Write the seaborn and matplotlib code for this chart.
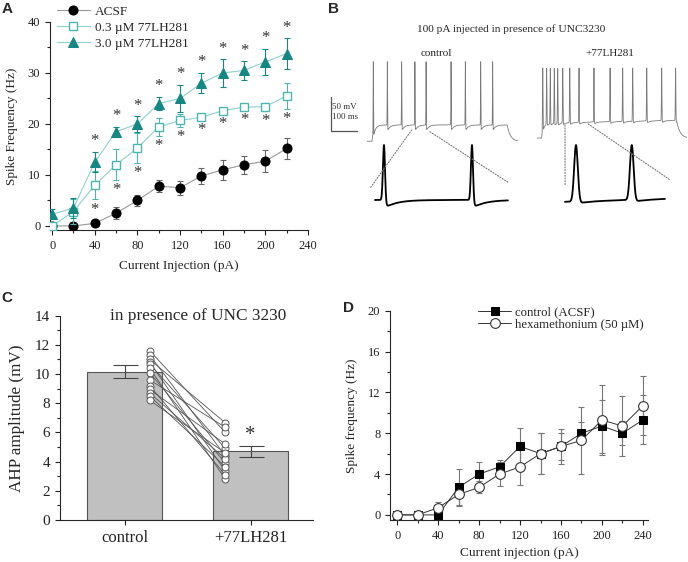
import numpy as np
import pandas as pd
import seaborn as sns
import matplotlib.pyplot as plt
from matplotlib.patches import ConnectionPatch
from matplotlib.ticker import MultipleLocator

# ---- A: spike frequency vs injected current (mean +- sem)
current_a = [0, 20, 40, 60, 80, 100, 120, 140, 160, 180, 200, 220]
acsf_hz = [0, 0, 0.5, 2.5, 5.0, 7.8, 7.5, 9.8, 11.0, 12.0, 12.7, 15.2]
acsf_sem = [0, 0.3, 0.4, 1.2, 1.0, 1.2, 1.4, 1.5, 1.9, 1.8, 2.2, 2.0]
low_hz = [0, 2.8, 8.0, 12.0, 15.3, 19.4, 20.7, 21.3, 22.6, 23.3, 23.4, 25.5]
low_sem = [0.5, 2.5, 2.8, 3.0, 3.0, 1.7, 1.3, 0.5, 0.5, 0.6, 0.8, 2.5]
high_hz = [2.3, 3.5, 12.5, 18.5, 20.0, 24.0, 25.0, 28.0, 30.0, 30.5, 32.2, 33.8]
high_sem = [1.0, 2.0, 2.0, 1.0, 1.5, 1.3, 2.7, 2.0, 2.7, 1.8, 2.5, 3.0]
first_sig = 40

# ---- B: spike times (ms after step onset) of the example traces
ctrl_spikes = [5, 59, 114, 165, 208, 304, 359, 418, 464]
drug_spikes = [4, 19, 33, 48.5, 61.5, 81, 108, 143.5, 201, 263, 311.5, 350, 404, 461.5, 515]
ctrl_zoom_spikes = [7, 51]
drug_zoom_spikes = [6.5, 34.4]

# ---- C: AHP amplitude
ahp_groups = ['control', '+77LH281']
ahp_mean = [10.15, 4.7]
ahp_sem = [0.45, 0.4]
ahp_ctrl = [11.6, 11.3, 11.0, 10.8, 10.7, 10.4, 10.1, 9.6, 9.2, 8.95, 8.7, 8.5, 8.2]
ahp_drug = [6.0, 4.4, 6.66, 3.35, 4.9, 2.8, 3.9, 6.35, 3.1, 5.2, 4.2, 3.65, 4.6]

# ---- D: hexamethonium
current_d = [0, 20, 40, 60, 80, 100, 120, 140, 160, 180, 200, 220, 240]
ctrl_hz = [0, 0, 0, 2.7, 4.0, 4.7, 6.7, 6.0, 6.7, 8.0, 8.7, 8.0, 9.3]
ctrl_sem = [0, 0, 0, 1.8, 1.2, 0.7, 1.8, 2.0, 1.7, 1.1, 2.6, 1.15, 2.4]
hexa_hz = [0, 0, 0.7, 2.0, 2.7, 4.0, 4.7, 6.0, 6.7, 7.3, 9.3, 8.7, 10.7]
hexa_sem = [0, 0, 0.6, 1.0, 0.6, 1.2, 1.8, 2.0, 1.3, 3.3, 3.4, 2.9, 2.9]

sns.set_style("ticks")
plt.rcParams['font.family'] = ['Liberation Serif', 'DejaVu Serif']
plt.rcParams['axes.linewidth'] = 0.8
plt.rcParams['xtick.major.size'] = 3.5
plt.rcParams['ytick.major.size'] = 3.5
plt.rcParams['xtick.minor.size'] = 2
plt.rcParams['ytick.minor.size'] = 2

W, H = 688, 562
fig = plt.figure(figsize=(W / 100, H / 100), dpi=100)

def px_axes(l, t, r, b):
    return fig.add_axes([l / W, 1 - b / H, (r - l) / W, (b - t) / H])

def px_text(x, y, s, **kw):
    fig.text(x / W, 1 - y / H, s, **kw)

def style(ax):
    sns.despine(ax=ax)
    ax.tick_params(which='both', direction='out', width=0.8, colors='#222')

# =================== A ===================
teal = '#178582'
teal_line = '#8fd0cd'
teal_sq = '#4fb4b0'
axA = px_axes(50, 22, 308, 230)
axA.errorbar(current_a, acsf_hz, yerr=acsf_sem, fmt='none', ecolor='#666', elinewidth=0.8,
             capsize=2.5, capthick=0.8, zorder=2)
sns.lineplot(x=current_a, y=acsf_hz, ax=axA, color='#999', linewidth=0.8, marker='o', markersize=6.5,
             markerfacecolor='black', markeredgecolor='black', zorder=3)
hA = [axA.lines[-1]]
axA.errorbar(current_a, low_hz, yerr=low_sem, fmt='none', ecolor=teal_sq, elinewidth=0.8,
             capsize=2.5, capthick=0.8, zorder=4)
sns.lineplot(x=current_a, y=low_hz, ax=axA, color=teal_line, linewidth=0.8, marker='s', markersize=6,
             markerfacecolor='white', markeredgecolor=teal_sq, markeredgewidth=1.0, zorder=5)
hA.append(axA.lines[-1])
axA.errorbar(current_a, high_hz, yerr=high_sem, fmt='none', ecolor=teal, elinewidth=0.8,
             capsize=2.5, capthick=0.8, zorder=6)
sns.lineplot(x=current_a, y=high_hz, ax=axA, color=teal_line, linewidth=0.8, marker='^', markersize=7.5,
             markerfacecolor=teal, markeredgecolor=teal, zorder=7)
hA.append(axA.lines[-1])
for x, hm, hs, lm, ls in zip(current_a, high_hz, high_sem, low_hz, low_sem):
    if x >= first_sig:
        axA.text(x, hm + hs + 1.3, '*', ha='center', va='baseline', fontsize=12, color='#333')
        axA.text(x, lm - ls - 2.8, '*', ha='center', va='baseline', fontsize=12, color='#333')
axA.set_xlim(-2, 240)
axA.set_ylim(-0.8, 40)
axA.xaxis.set_major_locator(MultipleLocator(40))
axA.xaxis.set_minor_locator(MultipleLocator(20))
axA.yaxis.set_major_locator(MultipleLocator(10))
axA.yaxis.set_minor_locator(MultipleLocator(5))
axA.tick_params(labelsize=9)
axA.set_xlabel('Current Injection (pA)', fontsize=9.5)
axA.set_ylabel('Spike Frequency (Hz)', fontsize=9.5)
axA.xaxis.set_label_coords(0.5, -0.145)
axA.yaxis.set_label_coords(-0.125, 0.5)
style(axA)
axA.legend(hA, ['ACSF', '0.3 \u00b5M 77LH281', '3.0 \u00b5M 77LH281'], loc='upper left',
           bbox_to_anchor=(0.027, 1.08), frameon=False, fontsize=9.5, handlelength=2.5,
           handletextpad=0.35, labelspacing=0.3, borderpad=0, borderaxespad=0)

# =================== B ===================
def step_base(t, rest, plateau, drift, dur=520):
    base = np.full_like(t, rest, dtype=float)
    on = (t >= 0) & (t < dur)
    base[on] = plateau + drift * t[on] / dur + (rest - plateau) * np.exp(-t[on] / 6)
    off = t >= dur
    base[off] = rest + (plateau + drift - rest) * np.exp(-(t[off] - dur) / 12)
    return base

def add_spikes(t, base, spikes, peak, width, ahp, tau):
    v = base.copy()
    for s in spikes:
        v += (peak - base) * np.exp(-((t - s) / width) ** 2)
        d = np.clip(t - s, 0, None)
        v -= ahp * (1 - np.exp(-d / width)) * np.exp(-d / tau)
    return v

t_raw = np.arange(-20, 560, 0.1)
v_ctrl = add_spikes(t_raw, step_base(t_raw, -82, -58, 0), ctrl_spikes, 35, 0.9, 9, 10)
v_drug = add_spikes(t_raw, step_base(t_raw, -68, -46, 4), drug_spikes, 35, 1.3, 4, 8)

axB1 = px_axes(366.8, 58.3, 517.6, 146.7)
axB2 = px_axes(536.5, 64.6, 687.3, 153.0)
for ax, v in [(axB1, v_ctrl), (axB2, v_drug)]:
    sns.lineplot(x=t_raw, y=v, ax=ax, estimator=None, sort=False, color='#7a7a7a', linewidth=0.6)
    ax.set_xlim(-20, 560)
    ax.set_ylim(-90, 40)
    ax.axis('off')

# scale bar 50 mV / 100 ms
axB1.plot([-158, -158, -58], [-17, -67, -67], color='#555', linewidth=0.9, clip_on=False)
axB1.text(-152, -31, '50 mV', fontsize=6.5, va='center', ha='left', color='#333')
axB1.text(-152, -47, '100 ms', fontsize=6.5, va='center', ha='left', color='#333')

t_zc = np.arange(2.5, 69, 0.05)
v_zc = add_spikes(t_zc, np.full_like(t_zc, -55.0), ctrl_zoom_spikes, 35, 0.75, 14, 6)
t_zd = np.arange(1, 51, 0.05)
v_zd = add_spikes(t_zd, -58 + 5 * (t_zd - 1) / 50, drug_zoom_spikes, 35, 1.3, 4, 6)

axZ1 = px_axes(370, 140, 510, 210)
axZ2 = px_axes(563, 140, 668, 210)
for ax, t, v, lim in [(axZ1, t_zc, v_zc, 70), (axZ2, t_zd, v_zd, 52.5)]:
    sns.lineplot(x=t, y=v, ax=ax, estimator=None, sort=False, color='black', linewidth=1.3)
    ax.set_xlim(0, lim)
    ax.set_ylim(-71.4, 43.2)
    ax.axis('off')

for axr, p, axz, q in [(axB1, (152.7, -65.4), axZ1, (0.0, 0.31)),
                       (axB1, (223, -68), axZ1, (0.99, 0.39)),
                       (axB2, (89.6, -49), axZ2, (0.02, 0.36)),
                       (axB2, (179, -47.4), axZ2, (1.02, 0.43))]:
    con = ConnectionPatch(xyA=p, coordsA=axr.transData, xyB=q, coordsB=axz.transAxes,
                          linestyle=(0, (1, 1.5)), color='#777', linewidth=0.8)
    fig.add_artist(con)

px_text(510.7, 29, '100 pA injected in presence of UNC3230', fontsize=8.2, ha='center', va='center')
px_text(436.7, 53, 'control', fontsize=8, ha='center', va='center')
px_text(610, 54, '+77LH281', fontsize=8, ha='center', va='center')

# =================== C ===================
axC = px_axes(60, 315.7, 313, 520)
sns.barplot(x=ahp_groups, y=ahp_mean, ax=axC, color='#c0c0c0', saturation=1, errorbar=None,
            edgecolor='#555', linewidth=0.8, width=0.6, zorder=1)
axC.errorbar([0, 1], ahp_mean, yerr=ahp_sem, fmt='none', ecolor='#444', elinewidth=0.8,
             capsize=9, capthick=0.8, zorder=2)
n = len(ahp_ctrl)
pairs = pd.DataFrame({'cell': list(range(n)) * 2,
                      'pos': [0.2] * n + [0.8] * n,
                      'amp': ahp_ctrl + ahp_drug})
sns.lineplot(data=pairs, x='pos', y='amp', units='cell', estimator=None, ax=axC, color='#555',
             linewidth=0.6, marker='o', markersize=5, markerfacecolor='white',
             markeredgecolor='#555', markeredgewidth=0.7, zorder=3)
axC.text(1, ahp_mean[1] + ahp_sem[1] + 0.35, '*', ha='center', va='baseline', fontsize=15, color='#333')
axC.set_xlim(-0.512, 1.496)
axC.set_ylim(0, 14)
axC.set_xticks([0, 1])
axC.set_xticklabels(ahp_groups)
axC.yaxis.set_major_locator(MultipleLocator(2))
axC.yaxis.set_minor_locator(MultipleLocator(1))
axC.tick_params(axis='x', labelsize=12)
axC.tick_params(axis='y', labelsize=11)
axC.set_xlabel('')
axC.set_ylabel('AHP amplitude (mV)', fontsize=12.3)
axC.yaxis.set_label_coords(-0.138, 0.5)
style(axC)
axC.text(0.545, 1.0, 'in presence of UNC 3230', transform=axC.transAxes, ha='center', va='center',
         fontsize=12.4)

# =================== D ===================
axD = px_axes(390, 310.7, 648, 520)
axD.errorbar(current_d, ctrl_hz, yerr=ctrl_sem, fmt='none', ecolor='#777', elinewidth=0.8,
             capsize=2.5, capthick=0.8, zorder=2)
axD.errorbar(current_d, hexa_hz, yerr=hexa_sem, fmt='none', ecolor='#777', elinewidth=0.8,
             capsize=2.5, capthick=0.8, zorder=2)
sns.lineplot(x=current_d, y=ctrl_hz, ax=axD, color='#333', linewidth=0.7, marker='s', markersize=6,
             markerfacecolor='black', markeredgecolor='black', zorder=3)
hD = [axD.lines[-1]]
sns.lineplot(x=current_d, y=hexa_hz, ax=axD, color='#333', linewidth=0.7, marker='o', markersize=7,
             markerfacecolor='white', markeredgecolor='#333', markeredgewidth=0.8, zorder=4)
hD.append(axD.lines[-1])
axD.set_xlim(-7, 245)
axD.set_ylim(-0.5, 20)
axD.xaxis.set_major_locator(MultipleLocator(40))
axD.xaxis.set_minor_locator(MultipleLocator(20))
axD.yaxis.set_major_locator(MultipleLocator(4))
axD.yaxis.set_minor_locator(MultipleLocator(2))
axD.tick_params(labelsize=9)
axD.set_xlabel('Current injection (pA)', fontsize=9.5)
axD.set_ylabel('Spike frequency (Hz)', fontsize=9.5)
axD.xaxis.set_label_coords(0.5, -0.13)
axD.yaxis.set_label_coords(-0.124, 0.5)
style(axD)
axD.legend(hD, ['control (ACSF)', 'hexamethonium (50 \u00b5M)'], loc='upper left',
           bbox_to_anchor=(0.342, 1.02), frameon=False, fontsize=9.2, handlelength=2.6,
           handletextpad=0.25, labelspacing=0.0, borderpad=0, borderaxespad=0)

# panel letters
for x, y, s in [(2, 2, 'A'), (328, 2, 'B'), (1, 291, 'C'), (343, 301, 'D')]:
    px_text(x, y, s, fontsize=11, fontweight='bold', family='Liberation Sans', va='top', ha='left')

fig.savefig('out.png', dpi=100)
